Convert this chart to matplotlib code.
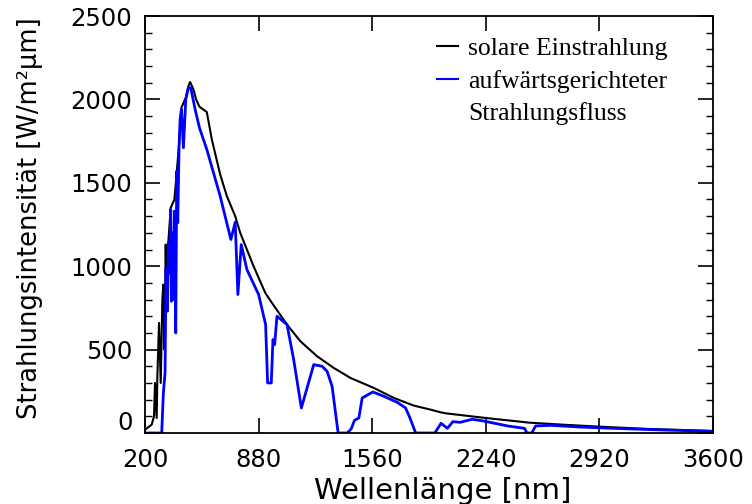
import matplotlib
matplotlib.use("Agg")
import matplotlib.pyplot as plt
import matplotlib.transforms as mtransforms
from matplotlib.lines import Line2D
from matplotlib.ticker import MultipleLocator, FixedLocator

solar_nm = [200, 240, 254, 260, 270, 274, 284, 294, 304, 310, 316, 324, 330,
            340, 354, 376, 404, 418, 444, 460, 470, 490, 506, 526, 570, 600,
            650, 690, 740, 770, 850, 920, 960, 1050, 1130, 1230, 1330, 1430,
            1570, 1690, 1810, 1910, 1970, 2000, 2240, 2500, 2700, 2920, 3200, 3600]
solar_val = [20, 50, 100, 300, 90, 340, 660, 300, 800, 890, 500, 1130, 800,
             1150, 1350, 1400, 1730, 1950, 2010, 2080, 2104, 2060, 2000, 1956, 1924, 1760,
             1550, 1420, 1300, 1200, 1000, 840, 780, 650, 550, 460, 390, 330,
             270, 210, 164, 140, 124, 118, 90, 62, 50, 38, 25, 12]

up_nm = [200, 300, 310, 320, 326, 334, 340, 346, 354, 358, 364, 370, 376, 384,
         390, 396, 404, 410, 418, 430, 444, 460, 474, 500, 526, 570, 650, 714,
         740, 756, 776, 810, 880, 922, 934, 956, 966, 976, 990, 1050, 1090, 1136,
         1210, 1260, 1290, 1320, 1356, 1410, 1434, 1454, 1480, 1500, 1564, 1630,
         1710, 1760, 1786, 1820, 1935, 1972, 2010, 2043, 2086, 2158, 2216, 2372,
         2472, 2486, 2515, 2538, 2629, 2800, 3000, 3300, 3600]
up_val = [0, 0, 240, 360, 980, 730, 1140, 960, 1340, 790, 1200, 800, 1330, 600,
          1570, 1260, 1720, 1880, 1940, 1710, 2000, 2070, 2070, 1940, 1830, 1700, 1420, 1160,
          1264, 830, 1130, 980, 830, 650, 300, 300, 560, 530, 700, 650, 440, 150,
          410, 400, 370, 280, 0, 0, 24, 76, 90, 210, 246, 220,
          184, 150, 90, 0, 0, 58, 28, 68, 64, 82, 74, 42,
          28, 0, 0, 42, 46, 36, 28, 18, 10]

x_ticks = [200, 880, 1560, 2240, 2920, 3600]
y_ticks = [0, 500, 1000, 1500, 2000, 2500]

label_solar = "solare Einstrahlung"
label_up_1 = "aufwärtsgerichteter"
label_up_2 = "Strahlungsfluss"

fig = plt.figure(figsize=(7.52, 5.04), dpi=100)
ax = fig.add_axes([145/752, 1-433/504, (713-145)/752, (433-16)/504])

ax.plot(solar_nm, solar_val, color="black", lw=1.5)
ax.plot(up_nm, up_val, color="#0000ff", lw=2.0)

ax.set_xlim(200, 3600)
ax.set_ylim(0, 2500)
ax.xaxis.set_major_locator(FixedLocator(x_ticks))
ax.yaxis.set_major_locator(FixedLocator(y_ticks))
ax.yaxis.set_minor_locator(MultipleLocator(100))
ax.tick_params(which="both", direction="in", top=True, right=True)
ax.tick_params(which="major", length=11, width=1.2, labelsize=17.5, pad=9)
ax.tick_params(which="minor", length=5, width=1.0)
ax.tick_params(axis="x", which="major", pad=11)
for sp in ax.spines.values():
    sp.set_linewidth(1.3)

# shift the "0" label up slightly as in the reference
lab0 = ax.get_yticklabels()[0]
lab0.set_transform(lab0.get_transform() +
                   mtransforms.ScaledTranslation(0, 9/72, fig.dpi_scale_trans))

ax.set_xlabel("Wellenlänge [nm]", fontsize=21)
ax.xaxis.set_label_coords((443-145)/568, (433-477)/417)
ax.set_ylabel("Strahlungsintensität [W/m²µm]", fontsize=18.5)
ax.yaxis.set_label_coords((43-145)/568, 0.515)

handles = [Line2D([], [], color="black", lw=1.5),
           Line2D([], [], color="#0000ff", lw=1.5),
           Line2D([], [], color="none")]
leg = ax.legend(handles, [label_solar, label_up_1, label_up_2],
                loc="upper left", bbox_to_anchor=((437-145)/568, (433-37)/417),
                frameon=False, handlelength=0.8, handletextpad=0.42,
                prop={"family": "Liberation Serif", "size": 18.5},
                borderaxespad=0, borderpad=0, labelspacing=0.38)

fig.savefig("out.png", dpi=100)
